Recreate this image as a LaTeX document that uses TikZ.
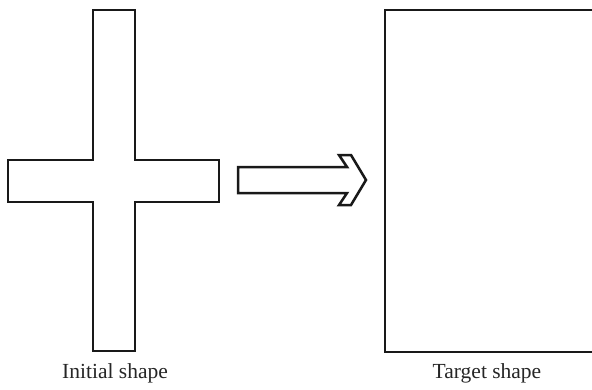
\documentclass[tikz,border=0pt]{standalone}
\usepackage{fontspec}
\setmainfont{Liberation Serif}
\begin{document}
\begin{tikzpicture}[x={(1pt,0)},y={(0,-1pt)},
  outline/.style={draw=black!90,line width=2.5pt,line join=miter},
  caption/.style={anchor=base,font=\fontsize{21.5}{24}\selectfont,text=black!85,inner sep=0pt}]
\useasboundingbox (0,0) rectangle (592,389);
% cross
\draw[outline] (93,10) -- (135,10) -- (135,160) -- (219,160) -- (219,202) -- (135,202)
  -- (135,351) -- (93,351) -- (93,202) -- (8,202) -- (8,160) -- (93,160) -- cycle;
% arrow
\draw[outline] (238,167) -- (347,167) -- (339,155) -- (351,155) -- (366,180)
  -- (351,205) -- (339,205) -- (347,193) -- (238,193) -- cycle;
% target rectangle (right edge clipped)
\begin{scope}
\clip (0,0) rectangle (592,389);
\draw[outline] (385,10) rectangle (596,352);
\end{scope}
\node[caption] (init) at (115,378) {Initial shape};
\node[caption] (targ) at (487,378) {Target shape};
\end{tikzpicture}
\end{document}
